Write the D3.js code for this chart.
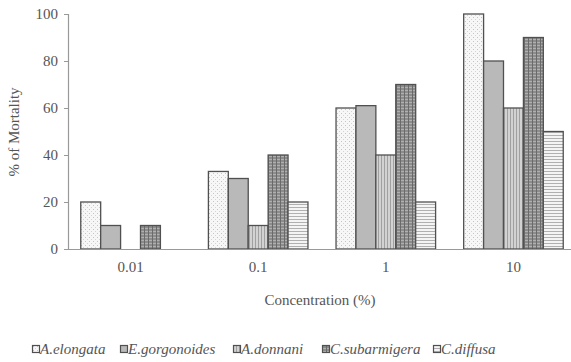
<!DOCTYPE html>
<html><head><meta charset="utf-8">
<script src="https://cdn.jsdelivr.net/npm/d3@7/dist/d3.min.js"></script>
<style>body{margin:0;background:#fff}svg{display:block}</style>
</head><body>
<svg id="c" width="571" height="362"></svg>
<script>
const concentrations = ["0.01", "0.1", "1", "10"];
const species = ["A.elongata", "E.gorgonoides", "A.donnani", "C.subarmigera", "C.diffusa"];
const aElongata = [20, 33, 60, 100];
const eGorgonoides = [10, 30, 61, 80];
const aDonnani = [0, 10, 40, 60];
const cSubarmigera = [10, 40, 70, 90];
const cDiffusa = [0, 20, 20, 50];
const yTicks = [0, 20, 40, 60, 80, 100];
const seriesValues = [aElongata, eGorgonoides, aDonnani, cSubarmigera, cDiffusa];

const svg = d3.select("#c");
const defs = svg.append("defs");
const font = "Liberation Serif";
const txt = "#555";

function pat(id, w, h, bg, draw) {
  const p = defs.append("pattern").attr("id", id).attr("patternUnits", "userSpaceOnUse")
    .attr("width", w).attr("height", h);
  p.append("rect").attr("width", w).attr("height", h).attr("fill", bg);
  draw(p);
}
pat("p0", 4, 4, "#f7f7f7", p => {
  p.append("rect").attr("x", 1).attr("y", 1).attr("width", 1).attr("height", 1).attr("fill", "#c4c4c4");
  p.append("rect").attr("x", 3).attr("y", 3).attr("width", 1).attr("height", 1).attr("fill", "#d4d4d4");
});
pat("p1", 4, 4, "#b9b9b9", p => {});
pat("p2", 3, 3, "#d2d2d2", p => {
  p.append("rect").attr("x", 0).attr("y", 0).attr("width", 1).attr("height", 3).attr("fill", "#a0a0a0");
});
pat("p3", 4, 3, "#8c8c8c", p => {
  p.append("rect").attr("x", 0).attr("y", 0).attr("width", 4).attr("height", 1).attr("fill", "#b0b0b0");
  p.append("rect").attr("x", 0).attr("y", 0).attr("width", 1).attr("height", 3).attr("fill", "#6a6a6a");
});
pat("p4", 3, 3, "#f4f4f4", p => {
  p.append("rect").attr("x", 0).attr("y", 0).attr("width", 3).attr("height", 1).attr("fill", "#b0b0b0");
});
const fills = ["url(#p0)", "url(#p1)", "url(#p2)", "url(#p3)", "url(#p4)"];

const mLeft = 68, mRight = 576, mTop = 14, mBottom = 249;
const x0 = d3.scaleBand().domain(concentrations).range([mLeft, mRight]).paddingInner(0.22).paddingOuter(0.1);
const x1 = d3.scaleBand().domain(species).range([0, x0.bandwidth()]);
const y = d3.scaleLinear().domain([0, 100]).range([mBottom, mTop]);

const g = svg.append("g");
concentrations.forEach((c, i) => {
  species.forEach((s, j) => {
    const v = seriesValues[j][i];
    if (v <= 0) return;
    g.append("rect")
      .attr("x", x0(c) + x1(s))
      .attr("y", y(v))
      .attr("width", x1.bandwidth())
      .attr("height", y(0) - y(v))
      .attr("fill", fills[j])
      .attr("stroke", "#505050")
      .attr("stroke-width", 1.3);
  });
});

const yAxis = svg.append("g").attr("transform", `translate(${mLeft},0)`)
  .call(d3.axisLeft(y).tickValues(yTicks).tickSize(4).tickPadding(6));
yAxis.attr("font-family", font).attr("font-size", 15);
yAxis.select(".domain").attr("stroke", "#999").attr("stroke-width", 1.2);
yAxis.selectAll(".tick line").attr("stroke", "#999");
yAxis.selectAll(".tick text").attr("fill", txt);

const xAxis = svg.append("g").attr("transform", `translate(0,${mBottom})`)
  .call(d3.axisBottom(x0).tickSize(0).tickPadding(12));
xAxis.attr("font-family", font).attr("font-size", 15);
xAxis.select(".domain").attr("stroke", "#999").attr("stroke-width", 1.2).attr("d", `M${mLeft},0.5H${mRight}`);
xAxis.selectAll(".tick text").attr("fill", txt);

svg.append("text").attr("x", 320).attr("y", 305).attr("text-anchor", "middle")
  .attr("font-family", font).attr("font-size", 15).attr("fill", txt).text("Concentration (%)");
svg.append("text").attr("transform", "translate(19,132) rotate(-90)").attr("text-anchor", "middle")
  .attr("font-family", font).attr("font-size", 15).attr("fill", txt).text("% of Mortality");

const legendX = [32, 120, 233, 322, 433];
species.forEach((s, j) => {
  const lg = svg.append("g").attr("transform", `translate(${legendX[j]},345)`);
  lg.append("rect").attr("x", 0.5).attr("y", 0.5).attr("width", 7).attr("height", 7)
    .attr("fill", fills[j]).attr("stroke", "#505050").attr("stroke-width", 1.2);
  lg.append("text").attr("x", 8).attr("y", 9).attr("font-family", font).attr("font-style", "italic")
    .attr("font-size", 15).attr("fill", txt).text(s);
});
</script>
</body></html>
